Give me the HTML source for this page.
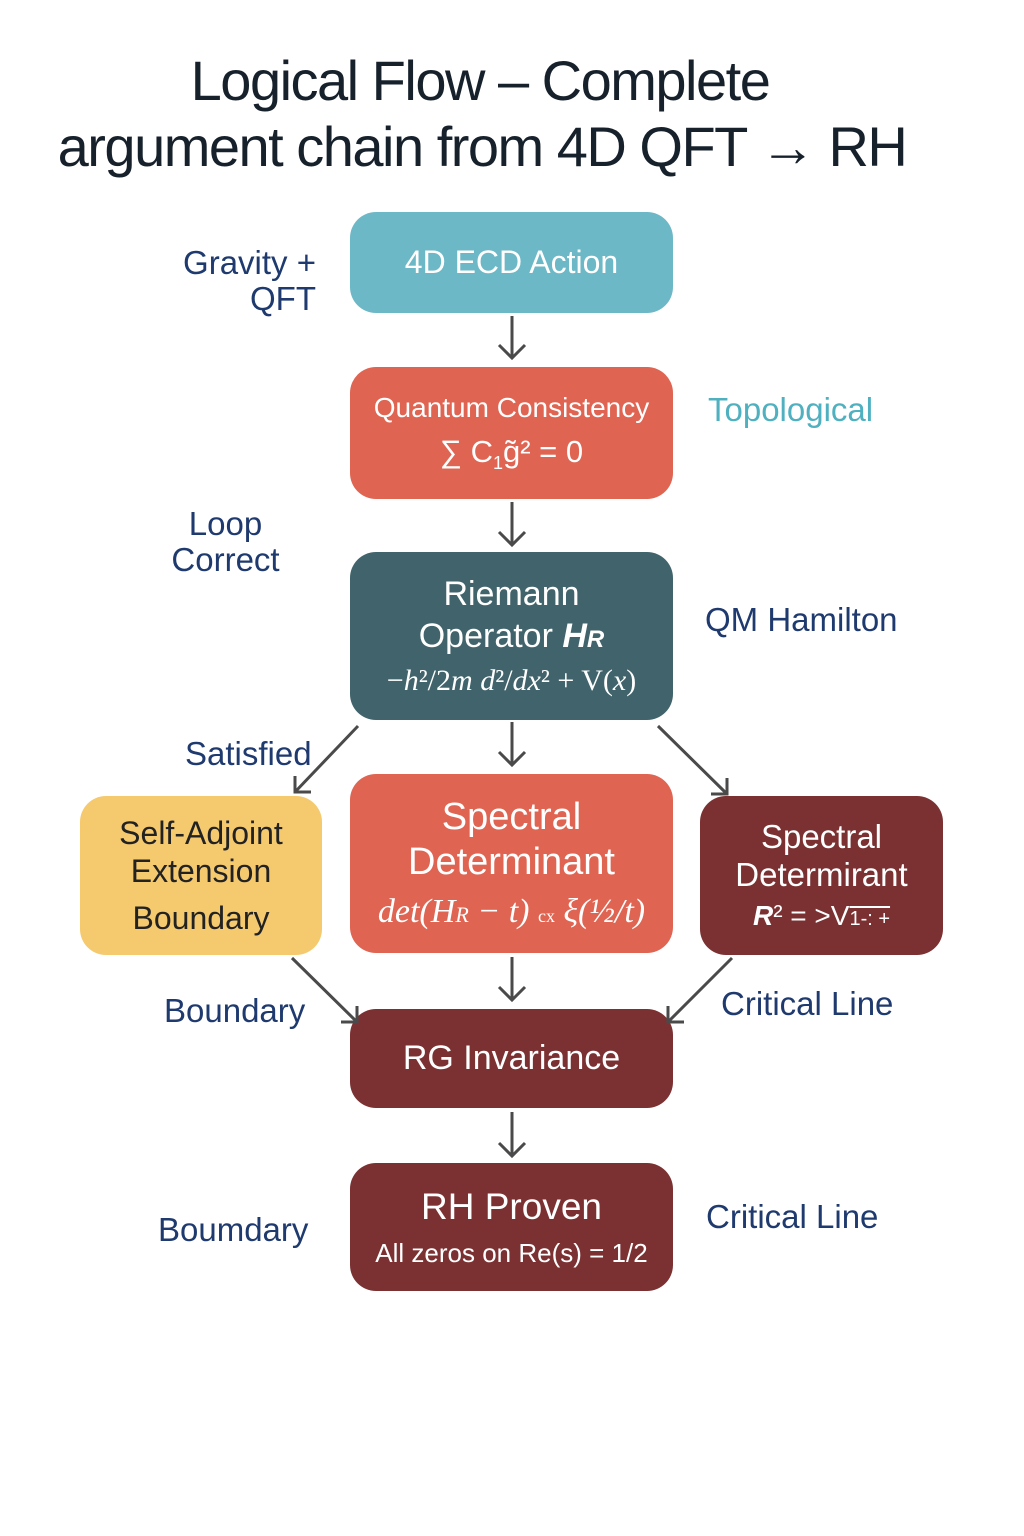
<!DOCTYPE html>
<html><head><meta charset="utf-8"><style>
body{margin:0;width:1024px;height:1536px;background:#fff;position:relative;overflow:hidden;font-family:"Liberation Sans","DejaVu Sans",sans-serif}
.t{position:absolute;left:0;width:980px;text-align:center;font-size:56px;color:#17212c;letter-spacing:-1.5px;white-space:nowrap}
.b{position:absolute;box-sizing:border-box;border-radius:26px;color:#fff;display:flex;flex-direction:column;align-items:center;justify-content:center;text-align:center;line-height:1.2;white-space:nowrap}
.l{position:absolute;font-size:33px;color:#1f3a6e;line-height:36px;white-space:nowrap}
.m{font-family:"Liberation Serif",serif;font-style:italic}
</style></head><body>
<div class="t" style="top:48px;left:-10px">Logical Flow – Complete</div>
<div class="t" style="top:114px;left:-8px">argument chain from 4D QFT → RH</div>

<div class="b" style="left:350px;top:212px;width:323px;height:101px;background:#6db8c6;font-size:32px">4D ECD Action</div>
<div class="b" style="left:350px;top:367px;width:323px;height:132px;background:#e06452;font-size:28px">Quantum Consistency<div style="font-size:31px;margin-top:8px">∑ C<sub style="font-size:18px">1</sub>g̃² = 0</div></div>
<div class="b" style="left:350px;top:552px;width:323px;height:168px;background:#41636b;font-size:34px;line-height:1.25"><div>Riemann</div><div>Operator <b><i>H<span style="font-size:24px">R</span></i></b></div><div class="m" style="font-size:30px;margin-top:4px;font-style:normal">−<i>h</i>²/2<i>m</i> <i>d</i>²/<i>dx</i>² + V(<i>x</i>)</div></div>
<div class="b" style="left:80px;top:796px;width:242px;height:159px;background:#f5c96e;color:#222;font-size:32px;line-height:1.2">Self-Adjoint<br>Extension<div style="margin-top:8px">Boundary</div></div>
<div class="b" style="left:350px;top:774px;width:323px;height:179px;background:#e06452;font-size:38px;line-height:1.2">Spectral<br>Determinant<div class="m" style="font-size:34px;margin-top:6px">det(H<span style="font-size:22px">R</span> − t) <span style="font-size:18px;font-style:normal">cx</span> ξ(½/t)</div></div>
<div class="b" style="left:700px;top:796px;width:243px;height:159px;background:#7b3132;font-size:33px;line-height:1.15">Spectral<br>Determirant<div style="font-size:28px;margin-top:6px"><b><i>R</i></b>² = &gt;V<span style="text-decoration:overline;font-size:20px">1-: +</span></div></div>
<div class="b" style="left:350px;top:1009px;width:323px;height:99px;background:#7b3132;font-size:34px">RG Invariance</div>
<div class="b" style="left:350px;top:1163px;width:323px;height:128px;background:#7b3132;font-size:37px">RH Proven<div style="font-size:26px;margin-top:8px">All zeros on Re(s) = 1/2</div></div>

<div class="l" style="left:178px;top:245px;text-align:right;width:138px">Gravity +<br>QFT</div>
<div class="l" style="left:708px;top:392px;color:#4fb0c0">Topological</div>
<div class="l" style="left:168px;top:506px;width:115px;text-align:center">Loop<br>Correct</div>
<div class="l" style="left:705px;top:602px">QM Hamilton</div>
<div class="l" style="left:185px;top:736px">Satisfied</div>
<div class="l" style="left:164px;top:993px">Boundary</div>
<div class="l" style="left:721px;top:986px">Critical Line</div>
<div class="l" style="left:158px;top:1212px">Boumdary</div>
<div class="l" style="left:706px;top:1199px">Critical Line</div>

<svg width="1024" height="1536" style="position:absolute;left:0;top:0" fill="none" stroke="#4a4a4a" stroke-width="3">
<g>
<path d="M512 316V358M499 345L512 358L525 345"/>
<path d="M512 502V545M499 532L512 545L525 532"/>
<path d="M512 722V765M499 752L512 765L525 752"/>
<path d="M512 957V1000M499 987L512 1000L525 987"/>
<path d="M512 1112V1156M499 1143L512 1156L525 1143"/>
<path d="M358 726L295 792M295 776L295 792L311 792"/>
<path d="M658 726L727 794M711 794L727 794L727 778"/>
<path d="M292 958L357 1022M341 1022L357 1022L357 1006"/>
<path d="M732 958L668 1022M668 1006L668 1022L684 1022"/>
</g></svg>
</body></html>
